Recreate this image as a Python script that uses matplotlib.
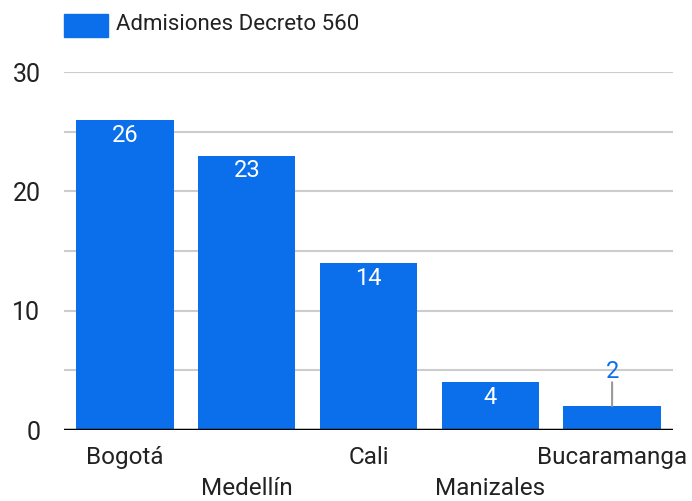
import matplotlib
matplotlib.use("Agg")
import matplotlib.pyplot as plt
import matplotlib.patches as mpatches

plt.rcParams['font.family'] = ['Roboto', 'DejaVu Sans']

ciudades = ["Bogotá", "Medellín", "Cali", "Manizales", "Bucaramanga"]
admisiones = [26, 23, 14, 4, 2]
serie = "Admisiones Decreto 560"

AZUL = '#0b6fec'
W, H = 692, 501

fig = plt.figure(figsize=(W / 100, H / 100), dpi=100)
ax = fig.add_axes([64 / W, (H - 430) / H, (673 - 64) / W, (430 - 72) / H])

x = range(len(ciudades))
bars = ax.bar(x, admisiones, width=0.8, color=AZUL, zorder=3)

ax.set_xlim(-0.5, len(ciudades) - 0.5)
ax.set_ylim(0, 30)
ax.set_yticks([0, 10, 20, 30])
ax.set_yticks([5, 15, 25], minor=True)
ax.grid(axis='y', which='both', color='#cccccc', linewidth=1.5, zorder=0)
ax.axhline(0, color='black', linewidth=2.5, zorder=4)

for s in ax.spines.values():
    s.set_visible(False)
ax.tick_params(axis='both', which='both', length=0)
ax.tick_params(axis='y', labelsize=18, pad=17, labelcolor='#222222')
ax.set_xticks(list(x))
ax.set_xticklabels([])

# etiquetas del eje x escalonadas
for i, nombre in enumerate(ciudades):
    off = -20 if i % 2 == 0 else -42
    ax.annotate(nombre, (i, 0), xytext=(0, off), textcoords='offset points',
                ha='center', va='center', fontsize=17.5, color='#222222',
                annotation_clip=False)

# etiquetas de valor
for i, v in enumerate(admisiones):
    if v >= 4:
        ax.annotate(str(v), (i, v), xytext=(0, -11), textcoords='offset points',
                    ha='center', va='center', fontsize=17, color='white', zorder=5)
    else:
        ax.annotate(str(v), (i, v), xytext=(0, 25), textcoords='offset points',
                    ha='center', va='center', fontsize=17, color=AZUL, zorder=5)
        ax.annotate('', (i, v), xytext=(i, v + 2.0), textcoords='data',
                    arrowprops=dict(arrowstyle='-', color='#999999', lw=1.5,
                                    shrinkA=0, shrinkB=0), zorder=5)

# leyenda
fig.patches.append(mpatches.Rectangle((64 / W, (H - 37) / H), 44 / W, 23 / H,
                                      transform=fig.transFigure, color=AZUL))
fig.text(116 / W, (H - 25) / H, serie, ha='left', va='center',
         fontsize=16, color='#222222')

fig.savefig("out.png", dpi=100)
